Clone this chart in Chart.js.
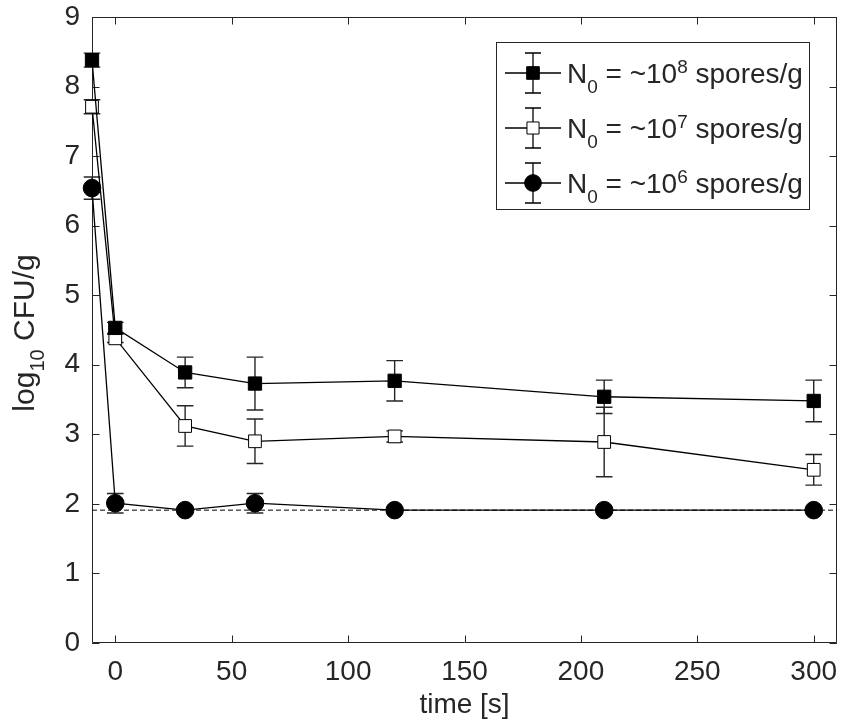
<!DOCTYPE html>
<html>
<head>
<meta charset="utf-8">
<script src="https://cdn.jsdelivr.net/npm/chart.js@4.4.1/dist/chart.umd.min.js"></script>
<style>
  html, body { margin: 0; padding: 0; background: #fff; }
  #wrap { width: 841px; height: 723px; }
</style>
</head>
<body>
<div id="wrap"><canvas id="chart" width="841" height="723"></canvas></div>
<script>
// time points [s], -10 is the untreated sample
const times = [-10, 0, 30, 60, 120, 210, 300]

const spores8 = [8.38, 4.53, 3.89, 3.73, 3.77, 3.54, 3.48]
const err8 = [0.10, 0.08, 0.22, 0.38, 0.29, 0.24, 0.30]

const spores7 = [7.71, 4.38, 3.12, 2.90, 2.97, 2.89, 2.49]
const err7 = [0.10, 0.06, 0.29, 0.32, 0.08, 0.50, 0.22]

const spores6 = [6.54, 2.01, 1.91, 2.01, 1.91, 1.91, 1.91]
const err6 = [0.16, 0.14, 0, 0.14, 0, 0, 0]

const detectionLimit = 1.91

const xTicks = [0, 50, 100, 150, 200, 250, 300]
const yTicks = [0, 1, 2, 3, 4, 5, 6, 7, 8, 9]
const xRange = [-10, 310]
const yRange = [0, 9]

const legendExponents = ["8", "7", "6"]

const FONT = '"Liberation Sans", Arial, Helvetica, sans-serif'
const INK = "#262626"

function toPoints(vals) {
  return times.map((t, i) => ({ x: t, y: vals[i] }))
}

const seriesStyles = [
  { pointStyle: "rect", pointRadius: 9.4, fill: "#000" },
  { pointStyle: "rect", pointRadius: 9.0, fill: "#fff" },
  { pointStyle: "circle", pointRadius: 8.8, fill: "#000" }
]

function makeSeries(vals, err, style) {
  return {
    data: toPoints(vals),
    err: err,
    borderColor: "#000",
    borderWidth: 1.3,
    pointStyle: style.pointStyle,
    pointRadius: style.pointRadius,
    pointBackgroundColor: style.fill,
    pointBorderColor: "#000",
    pointBorderWidth: 1,
    tension: 0,
    clip: false
  }
}

// error bars under the markers
const errorBars = {
  id: "errorBars",
  beforeDatasetsDraw(chart) {
    const { ctx, scales: { x, y } } = chart
    ctx.save()
    ctx.strokeStyle = INK
    ctx.lineWidth = 1.4
    chart.data.datasets.forEach(ds => {
      if (!ds.err) return
      ds.data.forEach((p, i) => {
        const e = ds.err[i]
        if (!e) return
        const px = x.getPixelForValue(p.x)
        const top = y.getPixelForValue(p.y + e)
        const bot = y.getPixelForValue(p.y - e)
        const cap = 8.3
        ctx.beginPath()
        ctx.moveTo(px, top); ctx.lineTo(px, bot)
        ctx.moveTo(px - cap, top); ctx.lineTo(px + cap, top)
        ctx.moveTo(px - cap, bot); ctx.lineTo(px + cap, bot)
        ctx.stroke()
      })
    })
    ctx.restore()
  }
}

// box with inward ticks, like the matlab axes
const axesBox = {
  id: "axesBox",
  beforeDatasetsDraw(chart) {
    const { ctx, chartArea: a, scales: { x, y } } = chart
    const tick = 7.5
    ctx.save()
    ctx.strokeStyle = INK
    ctx.lineWidth = 1
    ctx.beginPath()
    ctx.rect(Math.round(a.left) + 0.5, Math.round(a.top) + 0.5,
      Math.round(a.right - a.left) - 1, Math.round(a.bottom - a.top) - 1)
    xTicks.forEach(v => {
      const px = Math.round(x.getPixelForValue(v)) + 0.5
      ctx.moveTo(px, a.bottom); ctx.lineTo(px, a.bottom - tick)
      ctx.moveTo(px, a.top); ctx.lineTo(px, a.top + tick)
    })
    yTicks.forEach(v => {
      const py = Math.round(y.getPixelForValue(v)) + 0.5
      ctx.moveTo(a.left, py); ctx.lineTo(a.left + tick, py)
      ctx.moveTo(a.right, py); ctx.lineTo(a.right - tick, py)
    })
    ctx.stroke()
    ctx.restore()
  }
}

// draws text runs with sub/superscripts
function richText(ctx, runs, x, y, big, small) {
  runs.forEach(r => {
    const size = r.kind ? small : big
    const dy = r.kind === "sub" ? 10 : r.kind === "sup" ? -10 : 0
    ctx.font = size + "px " + FONT
    ctx.fillText(r.t, x, y + dy)
    x += ctx.measureText(r.t).width
  })
}

function richWidth(ctx, runs, big, small) {
  let w = 0
  runs.forEach(r => {
    ctx.font = (r.kind ? small : big) + "px " + FONT
    w += ctx.measureText(r.t).width
  })
  return w
}

const decorations = {
  id: "decorations",
  afterDraw(chart) {
    const { ctx } = chart
    ctx.save()
    ctx.fillStyle = INK
    ctx.textBaseline = "alphabetic"
    ctx.textAlign = "left"

    // y axis title
    const yTitle = [{ t: "log" }, { t: "10", kind: "sub" }, { t: " CFU/g" }]
    const w = richWidth(ctx, yTitle, 30, 20)
    ctx.translate(34, 333)
    ctx.rotate(-Math.PI / 2)
    richText(ctx, yTitle, -w / 2, 0, 30, 20)
    ctx.restore()

    // legend
    ctx.save()
    const box = { l: 496, t: 42, r: 810, b: 210 }
    ctx.fillStyle = "#fff"
    ctx.fillRect(box.l, box.t, box.r - box.l, box.b - box.t)
    ctx.strokeStyle = INK
    ctx.lineWidth = 1
    ctx.strokeRect(box.l + 0.5, box.t + 0.5, box.r - box.l - 1, box.b - box.t - 1)

    const rows = [73, 128, 183]
    chart.data.datasets.slice(0, 3).forEach((ds, i) => {
      const cy = rows[i]
      const mx = 533
      ctx.strokeStyle = "#000"
      ctx.lineWidth = 1.3
      ctx.beginPath()
      ctx.moveTo(505, cy); ctx.lineTo(561, cy)
      ctx.moveTo(mx, cy - 20); ctx.lineTo(mx, cy + 20)
      ctx.moveTo(mx - 8, cy - 20); ctx.lineTo(mx + 8, cy - 20)
      ctx.moveTo(mx - 8, cy + 20); ctx.lineTo(mx + 8, cy + 20)
      ctx.stroke()
      ctx.fillStyle = ds.pointBackgroundColor
      ctx.strokeStyle = "#000"
      ctx.lineWidth = 1
      Chart.helpers.drawPoint(ctx, {
        pointStyle: ds.pointStyle, radius: ds.pointRadius * 0.95, borderWidth: 1, rotation: 0
      }, mx, cy)
      ctx.fillStyle = INK
      richText(ctx, [
        { t: "N" }, { t: "0", kind: "sub" }, { t: " = ~10" },
        { t: legendExponents[i], kind: "sup" }, { t: " spores/g" }
      ], 567, cy + 10, 28, 19)
    })
    ctx.restore()
  }
}

new Chart(document.getElementById("chart"), {
  type: "line",
  data: {
    datasets: [
      makeSeries(spores8, err8, seriesStyles[0]),
      makeSeries(spores7, err7, seriesStyles[1]),
      makeSeries(spores6, err6, seriesStyles[2]),
      {
        data: [{ x: xRange[0], y: detectionLimit }, { x: xRange[1], y: detectionLimit }],
        borderColor: "#000",
        borderWidth: 1,
        borderDash: [5, 3],
        pointRadius: 0,
        clip: false
      }
    ]
  },
  options: {
    responsive: false,
    animation: false,
    layout: { autoPadding: false, padding: { top: 17, right: 4, left: 0, bottom: 0 } },
    plugins: { legend: { display: false }, tooltip: { enabled: false } },
    scales: {
      x: {
        type: "linear",
        min: xRange[0],
        max: xRange[1],
        grid: { display: false, drawTicks: false },
        border: { display: false },
        afterBuildTicks: s => { s.ticks = xTicks.map(v => ({ value: v })) },
        afterFit: s => { s.height = 80; s.paddingLeft = 0; s.paddingRight = 0 },
        ticks: { font: { family: FONT, size: 28 }, color: INK, padding: 12, maxRotation: 0, autoSkip: false },
        title: { display: true, text: "time [s]", font: { family: FONT, size: 28 }, color: INK, padding: { top: 0, bottom: 1 } }
      },
      y: {
        type: "linear",
        min: yRange[0],
        max: yRange[1],
        grid: { display: false, drawTicks: false },
        border: { display: false },
        afterBuildTicks: s => { s.ticks = yTicks.map(v => ({ value: v })) },
        afterFit: s => { s.width = 92; s.paddingTop = 0; s.paddingBottom = 0 },
        ticks: { font: { family: FONT, size: 28 }, color: INK, padding: 12 }
      }
    }
  },
  plugins: [errorBars, axesBox, decorations]
})
</script>
</body>
</html>
